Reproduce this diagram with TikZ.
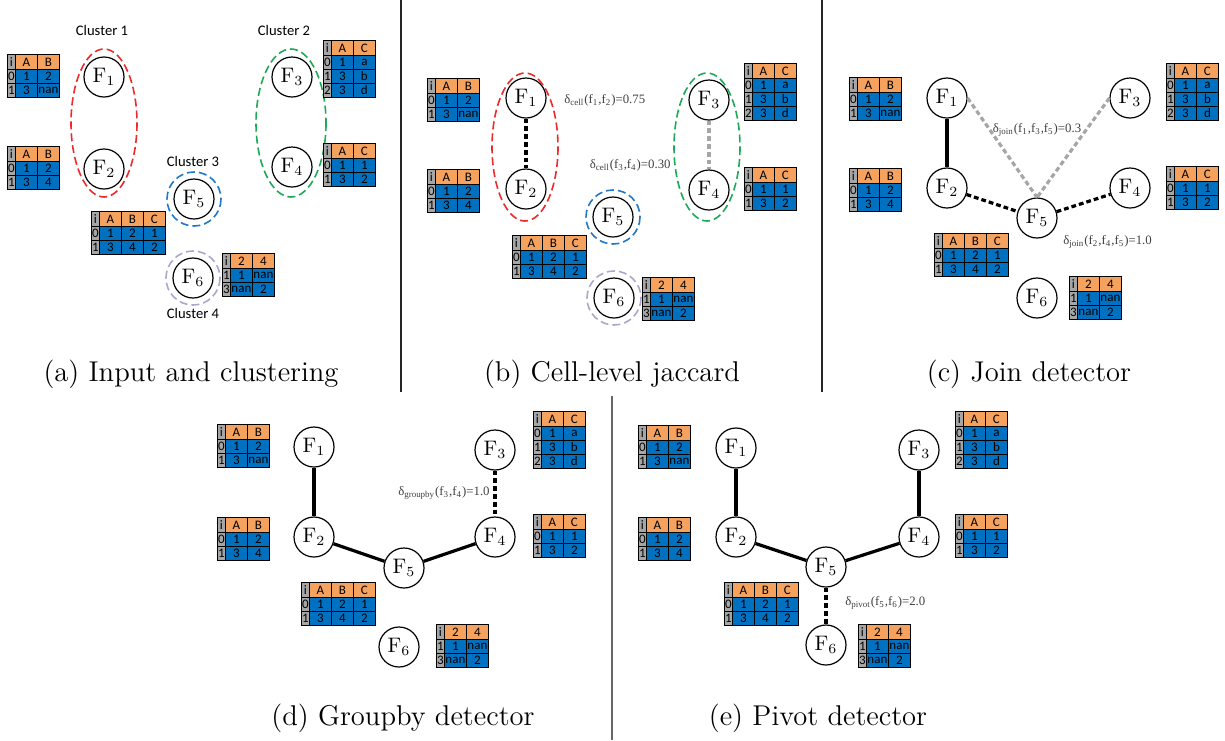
\documentclass[tikz,border=0pt]{standalone}
\usepackage{fontspec}
\newfontfamily\calfont{Carlito}
\newfontfamily\lblfont{Liberation Serif}
\usetikzlibrary{positioning}
\definecolor{headorange}{HTML}{F5A25F}
\definecolor{cellblue}{HTML}{0070C0}
\definecolor{idxgray}{HTML}{A6A6A6}
\definecolor{clred}{HTML}{EE2A2A}
\definecolor{clgreen}{HTML}{1DAA55}
\definecolor{clblue}{HTML}{1F78C8}
\definecolor{clpurple}{HTML}{B0A4CC}
\definecolor{lbl}{HTML}{404040}
\newcommand{\tabfont}{\calfont\fontsize{6.5}{6.5}\selectfont}
\def\tblone{{i,A,B},{0,1,2},{1,3,nan}}
\def\tbltwo{{i,A,B},{0,1,2},{1,3,4}}
\def\tblthree{{i,A,C},{0,1,a},{1,3,b},{2,3,d}}
\def\tblfour{{i,A,C},{0,1,1},{1,3,2}}
\def\tblfive{{i,A,B,C},{0,1,2,1},{1,3,4,2}}
\def\tblsix{{i,2,4},{1,1,nan},{3,nan,2}}
\newcommand{\ftab}[4]{%
  \foreach \row [count=\r] in #4 {%
    \foreach \c [count=\k] in \row {%
      \pgfmathsetmacro{\cx}{#2+(\k>1)*(8+(\k-2)*22)}%
      \pgfmathsetmacro{\cy}{#3+(\r>1)*(15+(\r-2)*14)}%
      \pgfmathsetmacro{\cw}{\k>1 ? 11 : 4}%
      \pgfmathsetmacro{\ch}{\r>1 ? 7 : 7.5}%
      \ifnum\k=1 \def\cf{idxgray}\else\ifnum\r=1 \def\cf{headorange}\else\def\cf{cellblue}\fi\fi
      \node[cell,fill=\cf,minimum width=\cw pt,minimum height=\ch pt] (#1-\r-\k) at (\cx,\cy) {\c};
    }%
  }%
}
\newcommand{\dsub}[1]{\textsubscript{#1}}
\begin{document}
\begin{tikzpicture}[x=0.5pt,y=-0.5pt,
  fnode/.style={circle,draw,line width=0.6pt,minimum size=20pt,inner sep=0pt,fill=white,font=\fontsize{10.5}{12}\selectfont},
  cell/.style={draw=black,line width=0.4pt,inner sep=0pt,anchor=north west,font=\tabfont},
  clus/.style={line width=0.8pt,dash pattern=on 4pt off 2pt},
  solidedge/.style={line width=1.6pt},
  dashedge/.style={line width=1.6pt,dash pattern=on 2.4pt off 1.5pt},
  greyedge/.style={dashedge,black!35},
  dlabel/.style={text=lbl,font=\lblfont\fontsize{6.4}{7}\selectfont,inner sep=1pt},
  cname/.style={font=\calfont\fontsize{7.3}{8}\selectfont},
  subcap/.style={font=\fontsize{14.3}{17}\selectfont}]
  \useasboundingbox (0,0) rectangle (1225,740);
  \draw[black!85,line width=0.6pt] (401,0) -- (401,392);
  \draw[black!85,line width=0.6pt] (822,0) -- (822,392);
  \draw[black!60,line width=0.6pt] (612,396) -- (612,740);
  % (a)
  \foreach \n/\x/\y in {1/104/77,2/104/169,3/292/77,4/292/167,5/194/199,6/193/278}
    \node[fnode] (a\n) at (\x,\y) {F$_\n$};
  \draw[clus,clred] (104,123) ellipse [x radius=33,y radius=74];
  \draw[clus,clgreen] (291,123) ellipse [x radius=35,y radius=74];
  \draw[clus,clblue] (a5) circle [radius=27];
  \draw[clus,clpurple] (a6) circle [radius=27];
  \node[cname] (cl1) at (102,30) {Cluster 1};
  \node[cname] (cl2) at (284,30) {Cluster 2};
  \node[cname] (cl3) at (193,161) {Cluster 3};
  \node[cname] (cl4) at (193,313) {Cluster 4};
  \ftab{ta1}{7}{54}{\tblone}
  \ftab{ta2}{7}{146}{\tbltwo}
  \ftab{ta3}{323}{40}{\tblthree}
  \ftab{ta4}{323}{143}{\tblfour}
  \ftab{ta5}{91}{211}{\tblfive}
  \ftab{ta6}{222}{253}{\tblsix}
  \node[subcap] (capa) at (191,374) {(a) Input and clustering};
  % (b)
  \foreach \n/\x/\y in {1/526/98,2/526/189,3/709/100,4/709/190,5/613/217,6/614/298}
    \node[fnode] (b\n) at (\x,\y) {F$_\n$};
  \draw[clus,clred] (525,147) ellipse [x radius=33,y radius=74];
  \draw[clus,clgreen] (707,147) ellipse [x radius=33,y radius=74];
  \draw[clus,clblue] (b5) circle [radius=27];
  \draw[clus,clpurple] (b6) circle [radius=27];
  \draw[dashedge] (b1) -- (b2);
  \draw[greyedge] (b3) -- (b4);
  \node[dlabel,anchor=west] (lb1) at (562,100) {δ\dsub{cell}(f\dsub{1},f\dsub{2})=0.75};
  \node[dlabel,anchor=east] (lb2) at (673,165) {δ\dsub{cell}(f\dsub{3},f\dsub{4})=0.30};
  \ftab{tb1}{427}{78}{\tblone}
  \ftab{tb2}{427}{169}{\tbltwo}
  \ftab{tb3}{744}{63}{\tblthree}
  \ftab{tb4}{744}{167}{\tblfour}
  \ftab{tb5}{512}{235}{\tblfive}
  \ftab{tb6}{642}{277}{\tblsix}
  \node[subcap] (capb) at (612,374) {(b) Cell-level jaccard};
  % (c)
  \foreach \n/\x/\y in {1/947/98,2/947/188,3/1130/98,4/1130/188,5/1037/218,6/1037/298}
    \node[fnode] (c\n) at (\x,\y) {F$_\n$};
  \draw[solidedge] (c1) -- (c2);
  \draw[dashedge] (c2) -- (c5);
  \draw[dashedge] (c5) -- (c4);
  \draw[greyedge] (c1.east) -- (c5.north);
  \draw[greyedge] (c3.west) -- (c5.north);
  \node[dlabel] (lc1) at (1037,130) {δ\dsub{join}(f\dsub{1},f\dsub{3},f\dsub{5})=0.3};
  \node[dlabel,anchor=west] (lc2) at (1061,242) {δ\dsub{join}(f\dsub{2},f\dsub{4},f\dsub{5})=1.0};
  \ftab{tc1}{849}{77}{\tblone}
  \ftab{tc2}{849}{168}{\tbltwo}
  \ftab{tc3}{1166}{63}{\tblthree}
  \ftab{tc4}{1166}{166}{\tblfour}
  \ftab{tc5}{934}{233}{\tblfive}
  \ftab{tc6}{1069}{276}{\tblsix}
  \node[subcap] (capc) at (1029,374) {(c) Join detector};
  % (d)
  \foreach \n/\x/\y in {1/314/447,2/314/537,3/495/450,4/495/537,5/404/568,6/399/647}
    \node[fnode] (d\n) at (\x,\y) {F$_\n$};
  \draw[solidedge] (d1) -- (d2);
  \draw[solidedge] (d2) -- (d5);
  \draw[solidedge] (d5) -- (d4);
  \draw[dashedge] (d3) -- (d4);
  \node[dlabel,anchor=east] (ld1) at (492,493) {δ\dsub{groupby}(f\dsub{3},f\dsub{4})=1.0};
  \ftab{td1}{217}{424}{\tblone}
  \ftab{td2}{217}{517}{\tbltwo}
  \ftab{td3}{533}{411}{\tblthree}
  \ftab{td4}{533}{514}{\tblfour}
  \ftab{td5}{301}{582}{\tblfive}
  \ftab{td6}{436}{624}{\tblsix}
  \node[subcap] (capd) at (403,718) {(d) Groupby detector};
  % (e)
  \foreach \n/\x/\y in {1/736/448,2/736/537,3/919/450,4/919/537,5/826/567,6/826/645}
    \node[fnode] (e\n) at (\x,\y) {F$_\n$};
  \draw[solidedge] (e1) -- (e2);
  \draw[solidedge] (e3) -- (e4);
  \draw[solidedge] (e2) -- (e5);
  \draw[solidedge] (e5) -- (e4);
  \draw[dashedge] (e5) -- (e6);
  \node[dlabel,anchor=west] (le1) at (843,603) {δ\dsub{pivot}(f\dsub{5},f\dsub{6})=2.0};
  \ftab{te1}{638}{425}{\tblone}
  \ftab{te2}{638}{517}{\tbltwo}
  \ftab{te3}{955}{411}{\tblthree}
  \ftab{te4}{955}{514}{\tblfour}
  \ftab{te5}{724}{582}{\tblfive}
  \ftab{te6}{858}{624}{\tblsix}
  \node[subcap] (cape) at (818,718) {(e) Pivot detector};
\end{tikzpicture}
\end{document}
